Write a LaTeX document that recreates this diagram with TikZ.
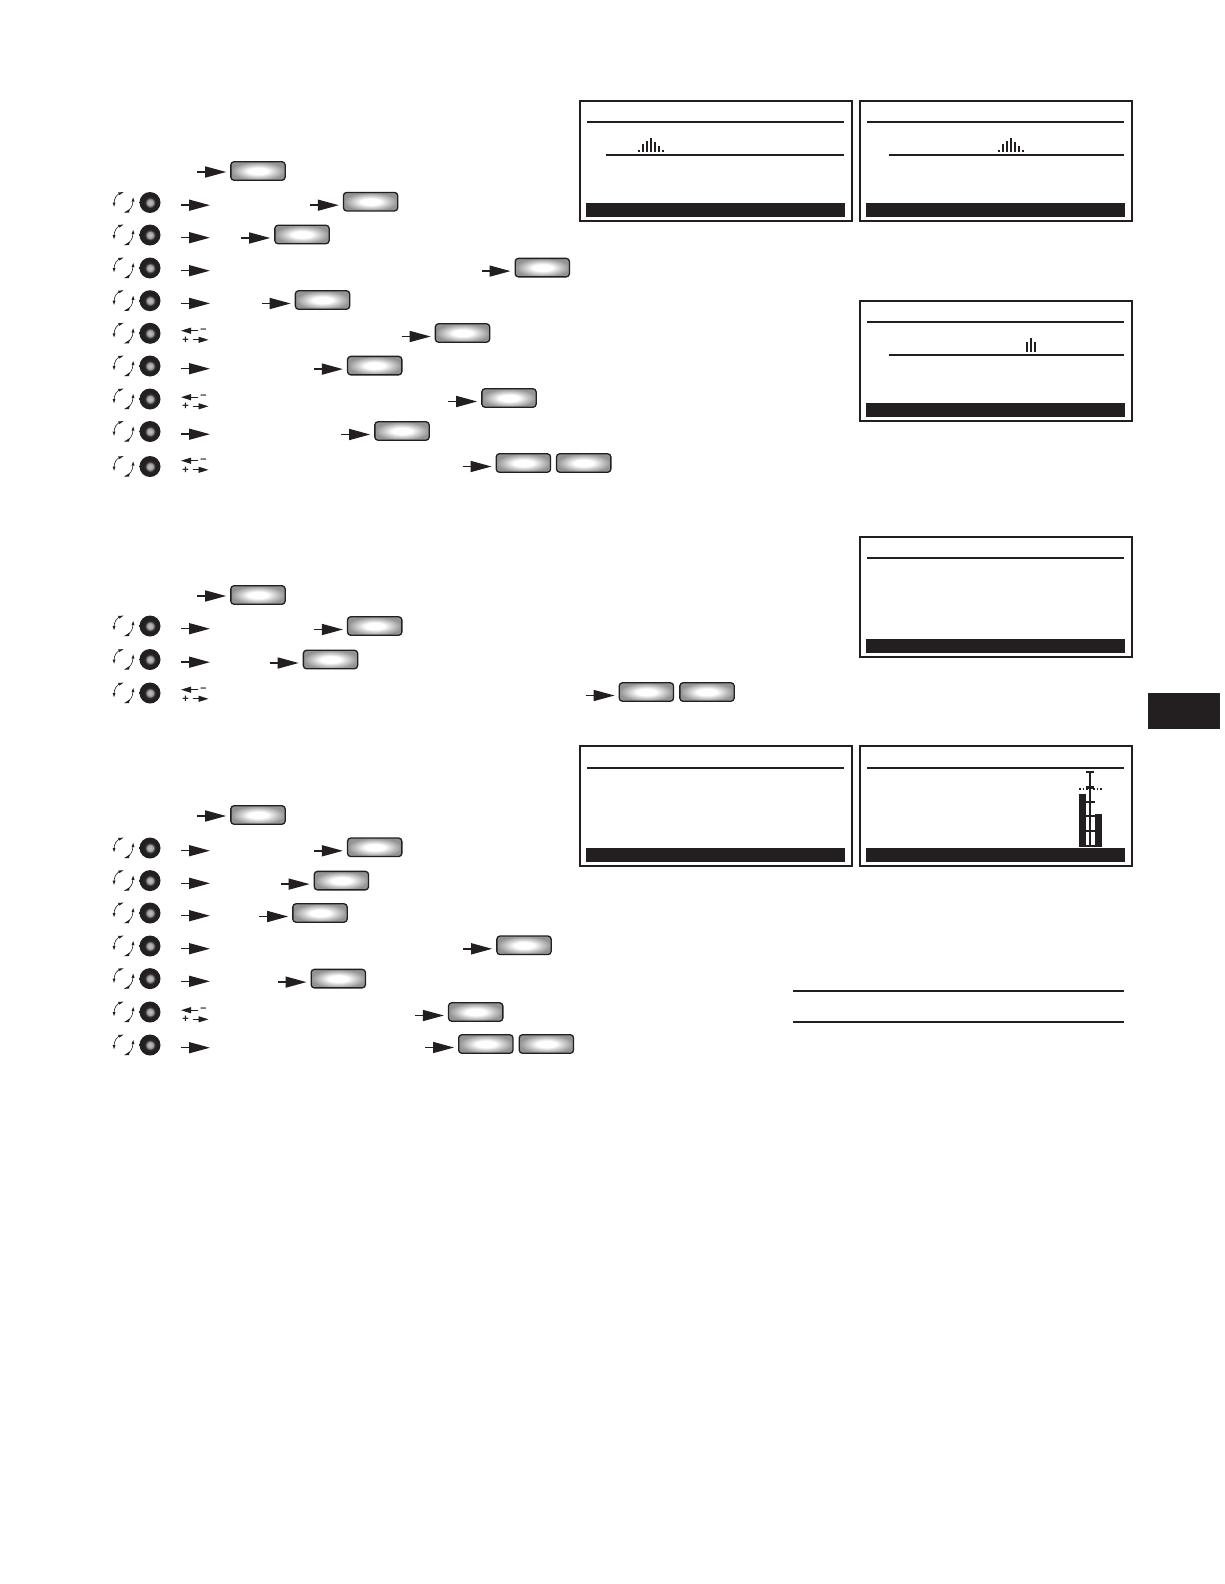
\documentclass[tikz,border=0pt]{standalone}
\usepackage{fontspec}
\setmainfont{Liberation Sans}
\usetikzlibrary{arrows.meta,calc}
\definecolor{ink}{HTML}{231F20}
\pgfdeclareradialshading{btnshade}{\pgfpointorigin}{color(0bp)=(white);color(9bp)=(white);color(17bp)=(black!22);color(25bp)=(black!42);color(50bp)=(black!45)}
\pgfdeclareradialshading{knobshade}{\pgfpointorigin}{color(0bp)=(black!25);color(7bp)=(black!35);color(12bp)=(black!85);color(17bp)=(ink);color(50bp)=(ink)}
\tikzset{
  x=1pt,y=-1pt,
  screen/.style={draw=ink,line width=2pt,fill=white},
  rule/.style={draw=ink,line width=1.6pt},
  bar/.style={fill=ink,draw=none},
  btn/.style={draw=ink,line width=1.3pt,rounded corners=3.2pt,minimum width=54.3pt,minimum height=18.5pt,inner sep=0pt,shading=btnshade},
  knob/.style={circle,minimum size=21pt,inner sep=0pt,shading=knobshade},
  pointer/.style={draw=ink,line width=1.5pt,-{Triangle[length=21pt,width=11pt,fill=ink]},shorten >=0pt},
  tinyarrow/.style={draw=ink,line width=.9pt,-{Triangle[length=10pt,width=6pt,fill=ink]}},
  sign/.style={inner sep=0pt,text=ink,font=\fontsize{11}{11}\selectfont\bfseries},
  turn/.style={draw=ink,line width=.6pt,fill=none},
  turntip/.style={fill=ink,draw=none},
  peak/.style={draw=ink,line width=2pt},
}
% wheel group: name, y (centre)
\newcommand{\wheelat}[2]{%
  \node[knob] (#1) at (150,#2+1) {};
  \coordinate (#1r) at (123.5,#2+1);
  \begin{scope}[shift={(#1r)}]
    \draw[turn] (-2,-9.8) .. controls (-7,-8.5) and (-9.5,-4) .. (-9.4,1);
    \draw[turn] (9.4,-1) .. controls (9.5,4) and (6,8.5) .. (2,9.8);
    \fill[turntip] (-5.5,-10) -- (0,-10.4) -- (-4,-7.5) -- cycle;
    \fill[turntip] (-10.9,0) -- (-8,0) -- (-9.5,4.2) -- cycle;
    \fill[turntip] (8,-.8) -- (11,-.8) -- (9.7,-5) -- cycle;
    \fill[turntip] (6.3,6.5) -- (.5,10.2) -- (5.5,10) -- cycle;
  \end{scope}
}
% single pointer beneath the wheel
\newcommand{\onearrow}[2]{%
  \coordinate (#1a) at (181,#2+3.7);
  \coordinate (#1b) at (210,#2+3.7);
  \draw[pointer] (#1a) -- (#1b);
}
% double +/- pointers
\newcommand{\twoarrow}[2]{%
  \coordinate (#1a) at (198,#2-2.3);
  \coordinate (#1b) at (181,#2-2.3);
  \coordinate (#1c) at (192.5,#2+6.8);
  \coordinate (#1d) at (208.5,#2+6.8);
  \draw[tinyarrow] (#1a) -- (#1b);
  \draw[tinyarrow] (#1c) -- (#1d);
  \node[sign] (#1m) at (203.5,#2-2.6) {\textendash};
  \node[sign] (#1p) at (185.5,#2+6.8) {+};
}
% button with pointer: name, cx, cy, arrow dy
\newcommand{\btnat}[4]{%
  \node[btn] (#1) at (#2,#3) {};
  \coordinate (#1s) at ($(#1.west)+(-33,#4)$);
  \coordinate (#1t) at ($(#1.west)+(-4,#4)$);
  \draw[pointer] (#1s) -- (#1t);
}
% screen: x, y offsets, header rule y
\newcommand{\screenat}[3]{%
  \begin{scope}[shift={(#1,#2)}]
    \path[screen] (580.3,101) rectangle (851.8,220.7);
    \path[bar] (586,203) rectangle (845,217);
    \draw[rule] (587,#3) -- (844,#3);
  \end{scope}
}
\begin{document}
\begin{tikzpicture}
\useasboundingbox (0,0) rectangle (1224,1584);
\fill[white] (0,0) rectangle (1224,1584);

% --- section 1
\btnat{a0}{258}{171}{1}
\wheelat{wa1}{201.5}\onearrow{wa1}{201.5}\btnat{a1}{370.6}{201.7}{3.5}
\wheelat{wa2}{234}\onearrow{wa2}{234}\btnat{a2}{302}{234.5}{3.5}
\wheelat{wa3}{267}\onearrow{wa3}{267}\btnat{a3}{542.3}{267.6}{3.5}
\wheelat{wa4}{299.7}\onearrow{wa4}{299.7}\btnat{a4}{322.5}{300}{3.5}
\wheelat{wa5}{332.3}\twoarrow{wa5}{333}\btnat{a5}{462.5}{333}{3.5}
\wheelat{wa6}{365}\onearrow{wa6}{365}\btnat{a6}{374.7}{365.6}{3.5}
\wheelat{wa7}{398}\twoarrow{wa7}{399.5}\btnat{a7}{509}{398}{3.5}
\wheelat{wa8}{430.5}\onearrow{wa8}{430.5}\btnat{a8}{402}{431}{3.5}
\wheelat{wa9}{465.5}\twoarrow{wa9}{463}\btnat{a9}{523.4}{463}{3.5}
\node[btn] (a10) at (583.7,463) {};

% --- section 2
\btnat{b0}{258}{595}{1}
\wheelat{wb1}{625}\onearrow{wb1}{625}\btnat{b1}{374.7}{626}{3.5}
\wheelat{wb2}{658.5}\onearrow{wb2}{658.5}\btnat{b2}{330.5}{659.5}{3.5}
\wheelat{wb3}{692}\twoarrow{wb3}{692}\btnat{b3}{646.4}{692}{3.5}
\node[btn] (b4) at (707,692) {};

% --- section 3
\btnat{c0}{258}{815}{1}
\wheelat{wc1}{847}\onearrow{wc1}{847}\btnat{c1}{374.7}{847.3}{3.5}
\wheelat{wc2}{879.6}\onearrow{wc2}{879.6}\btnat{c2}{341.4}{880.6}{3.5}
\wheelat{wc3}{912}\onearrow{wc3}{912}\btnat{c3}{320}{913}{3.5}
\wheelat{wc4}{945}\onearrow{wc4}{945}\btnat{c4}{524}{945.3}{3.5}
\wheelat{wc5}{977.6}\onearrow{wc5}{977.6}\btnat{c5}{338.3}{978.6}{3.5}
\wheelat{wc6}{1011}\twoarrow{wc6}{1012.5}\btnat{c6}{475.7}{1012}{3.5}
\wheelat{wc7}{1044}\onearrow{wc7}{1044}\btnat{c7}{485.8}{1044}{3.5}
\node[btn] (c8) at (546.4,1044) {};

% --- screens
\screenat{0}{0}{122}
\screenat{280}{0}{122}
\screenat{280}{200}{122}
\screenat{280}{436}{122}
\screenat{0}{645}{122.7}
\screenat{280}{645}{122.7}

% inner rules
\draw[rule] (606,155) -- (844,155);
\draw[rule] (888.7,155) -- (1124,155);
\draw[rule] (888.7,355) -- (1124,355);

% spectral peaks
\foreach \dx in {0,360}{
  \begin{scope}[shift={(\dx,0)}]
    \draw[peak] (639,152) -- (639,150);
    \draw[peak] (643,152) -- (643,144);
    \draw[peak] (647,152) -- (647,141.3);
    \draw[peak] (651,152) -- (651,138.3);
    \draw[peak] (655,152) -- (655,141.7);
    \draw[peak] (659,152) -- (659,145.7);
    \draw[peak] (663,152) -- (663,150);
  \end{scope}
}
\draw[peak] (1027,352) -- (1027,342);
\draw[peak] (1031,352) -- (1031,338);
\draw[peak] (1035,352) -- (1035,342);

% bar chart in last screen
\path[bar] (1079,794.3) rectangle (1086.3,846.5);
\path[bar] (1094.7,814) rectangle (1101.7,846.5);
\path[bar] (1079,844.5) rectangle (1101.7,846.5);
\draw[ink,line width=2.4pt] (1090,771.7) -- (1090,846);
\draw[ink,line width=1.8pt] (1086,771.7) -- (1094,771.7);
\draw[ink,line width=2.4pt] (1086,787.3) -- (1094,787.3);
\foreach \yy in {802,816,830.7}{\draw[ink,line width=1.6pt] (1086,\yy) -- (1094.5,\yy);}
\draw[ink,line width=1.3pt,dash pattern=on 1.5pt off 2pt] (1079,789) -- (1102,789);

% rules at bottom right
\draw[ink,line width=1.6pt] (793,991) -- (1124,991);
\draw[ink,line width=1.6pt] (793,1022) -- (1124,1022);

% tab
\path[bar] (1148,693) rectangle (1220,729);
\end{tikzpicture}
\end{document}
